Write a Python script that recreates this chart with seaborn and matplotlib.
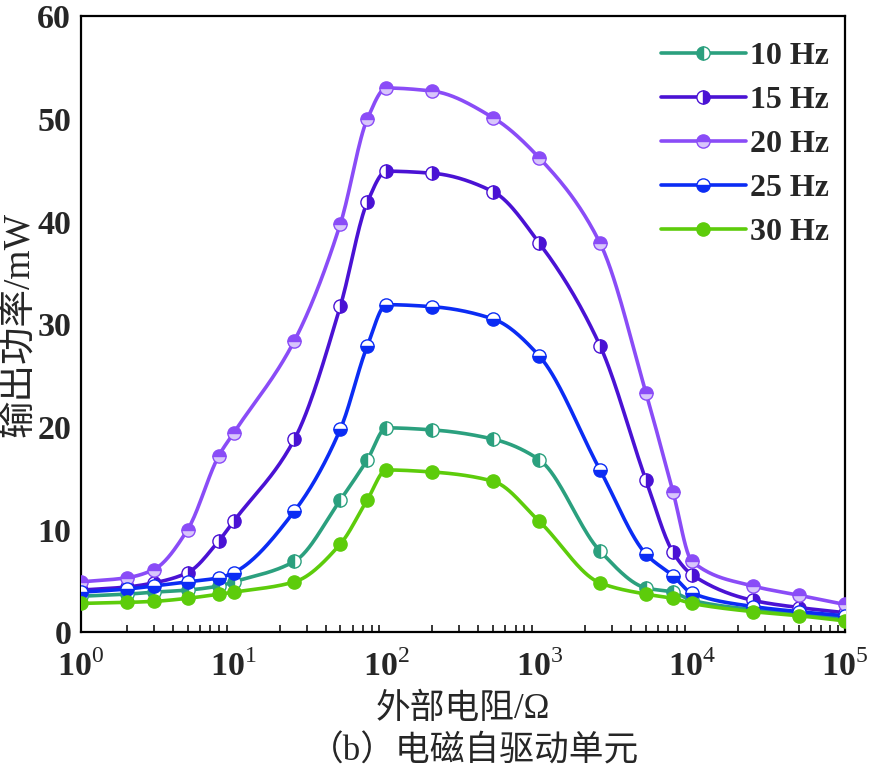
import matplotlib
matplotlib.use("Agg")
import matplotlib.pyplot as plt
from matplotlib.lines import Line2D
from matplotlib.ticker import LogLocator, NullFormatter, FixedLocator, FixedFormatter
import numpy as np
import pandas as pd
import seaborn as sns

# external load resistance (ohm)
resistance = [1, 2, 3, 5, 8, 10, 25, 50, 75, 100, 200, 500, 1000, 2500,
              5000, 7500, 10000, 25000, 50000, 100000]

# output power (mW) for each excitation frequency
p_10hz = [3.5, 3.7, 3.9, 4.1, 4.5, 4.9, 6.9, 12.9, 16.8, 19.9, 19.7, 18.8,
          16.8, 7.9, 4.3, 3.9, 3.1, 2.2, 1.8, 1.3]
p_15hz = [4.1, 4.4, 4.8, 5.8, 8.9, 10.8, 18.8, 31.8, 41.9, 44.9, 44.7, 42.9,
          37.9, 27.9, 14.8, 7.8, 5.6, 3.1, 2.4, 1.9]
p_20hz = [4.9, 5.3, 6.1, 10.0, 17.2, 19.4, 28.4, 39.8, 50.0, 53.0, 52.7, 50.1,
          46.2, 37.9, 23.3, 13.7, 6.9, 4.5, 3.6, 2.7]
p_25hz = [3.9, 4.2, 4.5, 4.9, 5.3, 5.8, 11.8, 19.8, 27.9, 31.9, 31.7, 30.5,
          26.9, 15.8, 7.6, 5.5, 3.8, 2.5, 2.0, 1.6]
p_30hz = [2.8, 2.9, 3.0, 3.3, 3.7, 3.9, 4.9, 8.6, 12.9, 15.8, 15.6, 14.7,
          10.8, 4.8, 3.7, 3.3, 2.8, 2.0, 1.6, 1.1]

labels = ["10 Hz", "15 Hz", "20 Hz", "25 Hz", "30 Hz"]
series = [p_10hz, p_15hz, p_20hz, p_25hz, p_30hz]
colors = ["#2ba07e", "#4a12d4", "#8a4cf7", "#0b2cf4", "#5dcc0b"]
fills = ["left", "right", "top", "bottom", "full"]
alt_colors = ["white", "white", "#d8c6fb", "white", "white"]


def smooth(x, y, n=500):
    # monotone cubic (pchip) curve through the points, only for drawing the line
    x = np.asarray(x, float)
    y = np.asarray(y, float)
    h = np.diff(x)
    delta = np.diff(y) / h
    d = np.zeros_like(y)
    d[0], d[-1] = delta[0], delta[-1]
    for k in range(1, len(x) - 1):
        if delta[k - 1] * delta[k] > 0:
            w1 = 2 * h[k] + h[k - 1]
            w2 = h[k] + 2 * h[k - 1]
            d[k] = (w1 + w2) / (w1 / delta[k - 1] + w2 / delta[k])
    xs = np.linspace(x[0], x[-1], n)
    idx = np.clip(np.searchsorted(x, xs) - 1, 0, len(x) - 2)
    t = (xs - x[idx]) / h[idx]
    h00 = 2 * t ** 3 - 3 * t ** 2 + 1
    h10 = t ** 3 - 2 * t ** 2 + t
    h01 = -2 * t ** 3 + 3 * t ** 2
    h11 = t ** 3 - t ** 2
    ys = h00 * y[idx] + h10 * h[idx] * d[idx] + h01 * y[idx + 1] + h11 * h[idx] * d[idx + 1]
    return xs, ys


sns.set_style("white")
plt.rcParams['font.family'] = ['Liberation Serif', 'Noto Sans CJK SC']
plt.rcParams['mathtext.fontset'] = 'custom'
plt.rcParams['mathtext.rm'] = 'Liberation Serif'
plt.rcParams['mathtext.bf'] = 'Liberation Serif:bold'

fig = plt.figure(figsize=(8.7, 7.7), dpi=100)
ax = fig.add_axes([0.093, 0.179, 0.878, 0.800])

lx = np.log10(resistance)
for i in reversed(range(5)):
    xs, ys = smooth(lx, series[i])
    curve = pd.DataFrame({"R": 10 ** xs, "P": ys})
    pts = pd.DataFrame({"R": resistance, "P": series[i]})
    sns.lineplot(data=curve, x="R", y="P", ax=ax, color=colors[i], lw=2.6,
                 sort=False, estimator=None, zorder=2 + i)
    sns.lineplot(data=pts, x="R", y="P", ax=ax, color=colors[i], linestyle="none",
                 marker="o", markersize=9.5, fillstyle=fills[i],
                 markerfacecoloralt=alt_colors[i], markeredgecolor=colors[i],
                 markeredgewidth=1.0, sort=False, estimator=None, zorder=2.5 + i)

ax.set_xscale("log")
ax.set_xlim(1, 1e5)
ax.set_ylim(0, 60)
ax.set_yticks(range(0, 61, 10))
ax.xaxis.set_major_locator(FixedLocator([1, 10, 100, 1e3, 1e4, 1e5]))
ax.xaxis.set_major_formatter(FixedFormatter([r"$\mathbf{10}^{%d}$" % k for k in range(6)]))
ax.xaxis.set_minor_locator(LogLocator(base=10, subs=np.arange(2, 10), numticks=20))
ax.xaxis.set_minor_formatter(NullFormatter())

for s in ax.spines.values():
    s.set_linewidth(1.6)
    s.set_color("black")
ax.tick_params(axis="both", which="major", direction="in", length=10, width=1.5,
               labelsize=24.5, top=False, right=False)
ax.tick_params(axis="x", which="major", pad=13)
ax.tick_params(axis="y", which="major", pad=7)
ax.tick_params(axis="x", which="minor", direction="in", length=5, width=1.3,
               top=False, bottom=True)
for t in ax.get_yticklabels():
    t.set_fontweight("bold")

ax.set_xlabel("外部电阻/Ω", fontsize=25, labelpad=7)
ax.set_ylabel("输出功率/mW", fontsize=27, labelpad=0)
fig.text(0.545, 0.024, "（b）电磁自驱动单元", ha="center", va="center", fontsize=25)

handles = [Line2D([], [], color=colors[i], lw=2.6, marker="o", markersize=9.5,
                  fillstyle=fills[i], markerfacecoloralt=alt_colors[i],
                  markeredgecolor=colors[i], markeredgewidth=1.0)
           for i in range(5)]
leg = ax.legend(handles, labels, loc="upper right", bbox_to_anchor=(1.005, 0.99),
                frameon=False, prop={"size": 23, "weight": "bold"},
                handlelength=2.65, handletextpad=0.15, labelspacing=0.46,
                borderaxespad=0.2)

fig.savefig("out.png", dpi=100)
